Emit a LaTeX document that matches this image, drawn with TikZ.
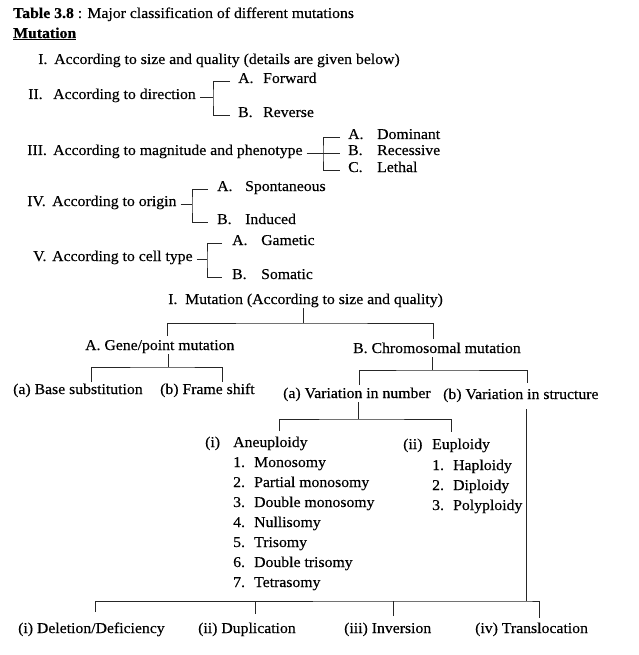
\documentclass[tikz,border=0pt]{standalone}
\usepackage{fontspec}
\setmainfont[FakeStretch=1.05,FakeBold=0.35]{Liberation Serif}
\begin{document}
\begin{tikzpicture}[x=1pt,y=-1pt,
  lbl/.style={anchor=west, inner sep=0pt, text height=8pt, text depth=4pt, font=\fontsize{15}{17}\selectfont},
  ln/.style={line width=0.9pt, black!85}]
\useasboundingbox (0,0) rectangle (638,655);
% ---------- header ----------
\node[lbl] (title) at (13,16) {\textbf{Table 3.8} : Major classification of different mutations};
\node[lbl] (mut) at (13,36) {\textbf{\underline{Mutation}}};
% I
\node[lbl] (n1) at (38,62) {I.};
\node[lbl] (t1) at (54,62) {According to size and quality (details are given below)};
% II
\node[lbl] (n2) at (28,97) {II.};
\node[lbl] (t2) at (53,97) {According to direction};
\node[lbl] (f2) at (238,81) {\makebox[25pt][l]{A.}Forward};
\node[lbl] (r2) at (238,115) {\makebox[25pt][l]{B.}Reverse};
\coordinate (b2) at (213,97);
\draw[ln] ([xshift=4]t2.east) -- (b2);
\draw[ln] ([xshift=-8]f2.west) -| (b2) |- ([xshift=-8]r2.west);
% III
\node[lbl] (n3) at (27,153) {III.};
\node[lbl] (t3) at (53,153) {According to magnitude and phenotype};
\node[lbl] (d3) at (348,137) {\makebox[29pt][l]{A.}Dominant};
\node[lbl] (r3) at (348,153) {\makebox[29pt][l]{B.}Recessive};
\node[lbl] (l3) at (348,170) {\makebox[29pt][l]{C.}Lethal};
\coordinate (b3) at (323,153);
\draw[ln] ([xshift=4]t3.east) -- ([xshift=-8]r3.west);
\draw[ln] ([xshift=-8]d3.west) -| (b3) |- ([xshift=-8]l3.west);
% IV
\node[lbl] (n4) at (27,204) {IV.};
\node[lbl] (t4) at (52,204) {According to origin};
\node[lbl] (s4) at (217,189) {\makebox[28pt][l]{A.}Spontaneous};
\node[lbl] (i4) at (217,222) {\makebox[28pt][l]{B.}Induced};
\coordinate (b4) at (192,204);
\draw[ln] ([xshift=4]t4.east) -- (b4);
\draw[ln] ([xshift=-9]s4.west) -| (b4) |- ([xshift=-9]i4.west);
% V
\node[lbl] (n5) at (33,259) {V.};
\node[lbl] (t5) at (52,259) {According to cell type};
\node[lbl] (g5) at (232,243) {\makebox[29pt][l]{A.}Gametic};
\node[lbl] (s5) at (232,277) {\makebox[29pt][l]{B.}Somatic};
\coordinate (b5) at (207,259);
\draw[ln] ([xshift=4]t5.east) -- (b5);
\draw[ln] ([xshift=-10]g5.west) -| (b5) |- ([xshift=-10]s5.west);
% ---------- tree ----------
\node[lbl] (root) at (168,302) {I.\ \ Mutation (According to size and quality)};
\node[lbl] (gene) at (85,348) {A. Gene/point mutation};
\node[lbl] (chrom) at (353,351) {B. Chromosomal mutation};
\coordinate (rj) at (303,323);
\coordinate (rl) at (167,336);
\coordinate (rr) at (433,339);
\draw[ln] (root.south -| rj) -- (rj);
\draw[ln] (rl) |- (rj) -| (rr);
% gene branch
\node[lbl] (base) at (13,392) {(a) Base substitution};
\node[lbl] (frame) at (160,392) {(b) Frame shift};
\coordinate (gj) at (168,367);
\coordinate (gl) at (91,382);
\coordinate (gr) at (222,382);
\draw[ln] (gene.south -| gj) -- (gj);
\draw[ln] (gl) |- (gj) -| (gr);
% chromosomal branch
\node[lbl] (vnum) at (283,396) {(a) Variation in number};
\node[lbl] (vstr) at (443,397) {(b) Variation in structure};
\coordinate (cj) at (432,370);
\coordinate (cl) at (359,385);
\coordinate (cr) at (527,383);
\draw[ln] (chrom.south -| cj) -- (cj);
\draw[ln] (cl) |- (cj) -| (cr);
% number branch
\node[lbl] (an) at (205,445) {\makebox[28pt][l]{(i)}Aneuploidy};
\node[lbl] (a1) at (233,465) {\makebox[21pt][l]{1.}Monosomy};
\node[lbl] (a2) at (233,485) {\makebox[21pt][l]{2.}Partial monosomy};
\node[lbl] (a3) at (233,505) {\makebox[21pt][l]{3.}Double monosomy};
\node[lbl] (a4) at (233,525) {\makebox[21pt][l]{4.}Nullisomy};
\node[lbl] (a5) at (233,545) {\makebox[21pt][l]{5.}Trisomy};
\node[lbl] (a6) at (233,565) {\makebox[21pt][l]{6.}Double trisomy};
\node[lbl] (a7) at (233,585) {\makebox[21pt][l]{7.}Tetrasomy};
\node[lbl] (eu) at (403,447) {\makebox[29pt][l]{(ii)}Euploidy};
\node[lbl] (e1) at (432,468) {\makebox[21pt][l]{1.}Haploidy};
\node[lbl] (e2) at (432,488) {\makebox[21pt][l]{2.}Diploidy};
\node[lbl] (e3) at (432,508) {\makebox[21pt][l]{3.}Polyploidy};
\coordinate (nj) at (358,419);
\coordinate (nl) at (279,431);
\coordinate (nr) at (451,432);
\draw[ln] (vnum.south -| nj) -- (nj);
\draw[ln] (nl) |- (nj) -| (nr);
% structure branch
\node[lbl] (del) at (18,631) {(i) Deletion/Deficiency};
\node[lbl] (dup) at (198,631) {(ii) Duplication};
\node[lbl] (inv) at (344,631) {(iii) Inversion};
\node[lbl] (tra) at (475,631) {(iv) Translocation};
\coordinate (sj) at (526,601);
\coordinate (s1) at (95,612);
\coordinate (s2) at (255,614);
\coordinate (s3) at (393,616);
\coordinate (s4) at (539,618);
\draw[ln] ([yshift=-6pt]vstr.south -| sj) -- (sj);
\draw[ln] (s1) |- (sj) -| (s4);
\draw[ln] (s2) -- (s2 |- sj);
\draw[ln] (s3) -- (s3 |- sj);
\end{tikzpicture}
\end{document}
